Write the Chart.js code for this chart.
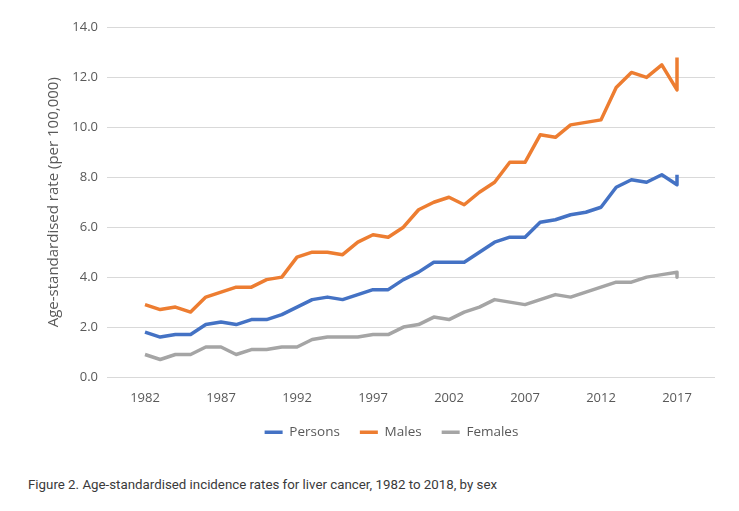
<!DOCTYPE html>
<html lang="en">
<head>
  <meta charset="UTF-8" />
  <title>Liver cancer incidence by sex</title>
  <script src="https://cdn.jsdelivr.net/npm/chart.js"></script>
  <style>
    html, body { margin: 0; padding: 0; background: #fff; }
    #wrap { position: relative; width: 739px; height: 511px; }
    #chart { position: absolute; left: 0; top: 0; }
    #caption {
      position: absolute; left: 28px; top: 476px;
      font-family: Roboto, sans-serif; font-size: 13.3px; line-height: 18px;
      color: #3a3a3a; white-space: nowrap;
    }
  </style>
</head>
<body>

<div id="wrap">
  <canvas id="chart" width="739" height="455"></canvas>
  <div id="caption">Figure 2. Age-standardised incidence rates for liver cancer, 1982 to 2018, by sex</div>
</div>

<script>
// the source plots its final (2018) value on the 2017 position, hence 2017 twice
const years = [1982, 1983, 1984, 1985, 1986, 1987, 1988, 1989, 1990, 1991,
               1992, 1993, 1994, 1995, 1996, 1997, 1998, 1999, 2000, 2001,
               2002, 2003, 2004, 2005, 2006, 2007, 2008, 2009, 2010, 2011,
               2012, 2013, 2014, 2015, 2016, 2017, 2017];

const persons = [1.8, 1.6, 1.7, 1.7, 2.1, 2.2, 2.1, 2.3, 2.3, 2.5,
                 2.8, 3.1, 3.2, 3.1, 3.3, 3.5, 3.5, 3.9, 4.2, 4.6,
                 4.6, 4.6, 5.0, 5.4, 5.6, 5.6, 6.2, 6.3, 6.5, 6.6,
                 6.8, 7.6, 7.9, 7.8, 8.1, 7.7, 8.1];

const males = [2.9, 2.7, 2.8, 2.6, 3.2, 3.4, 3.6, 3.6, 3.9, 4.0,
               4.8, 5.0, 5.0, 4.9, 5.4, 5.7, 5.6, 6.0, 6.7, 7.0,
               7.2, 6.9, 7.4, 7.8, 8.6, 8.6, 9.7, 9.6, 10.1, 10.2,
               10.3, 11.6, 12.2, 12.0, 12.5, 11.5, 12.8];

const females = [0.9, 0.7, 0.9, 0.9, 1.2, 1.2, 0.9, 1.1, 1.1, 1.2,
                 1.2, 1.5, 1.6, 1.6, 1.6, 1.7, 1.7, 2.0, 2.1, 2.4,
                 2.3, 2.6, 2.8, 3.1, 3.0, 2.9, 3.1, 3.3, 3.2, 3.4,
                 3.6, 3.8, 3.8, 4.0, 4.1, 4.2, 4.0];

const xTickLabels = [1982, 1987, 1992, 1997, 2002, 2007, 2012, 2017];
const yTickLabels = [0, 2, 4, 6, 8, 10, 12, 14];

const grey = '#595959';
const family = "'Open Sans', sans-serif";
const tickFont = { family: family, size: 13 };

function series(label, values, color) {
  return {
    label: label,
    data: years.map((yr, i) => ({ x: yr, y: values[i] })),
    borderColor: color,
    backgroundColor: color,
    borderWidth: 3.5,
    borderJoinStyle: 'round',
    pointRadius: 0,
    pointHoverRadius: 0,
    pointStyle: 'line',
    tension: 0
  };
}

function draw() {
  new Chart(document.getElementById('chart'), {
    type: 'line',
    data: {
      datasets: [
        series('Persons', persons, '#4472C4'),
        series('Males', males, '#ED7D31'),
        series('Females', females, '#A5A5A5')
      ]
    },
    options: {
      responsive: false,
      animation: false,
      layout: { padding: { left: 68, top: 27.5, right: 24, bottom: 6 } },
      plugins: {
        tooltip: { enabled: false },
        legend: {
          position: 'bottom',
          labels: {
            usePointStyle: true,
            pointStyle: 'line',
            pointStyleWidth: 18,
            padding: 20,
            color: grey,
            font: { family: family, size: 13.5 }
          }
        }
      },
      scales: {
        x: {
          type: 'linear',
          min: 1979.5,
          max: 2019.5,
          grid: { display: false },
          border: { display: false },
          afterBuildTicks: s => { s.ticks = xTickLabels.map(v => ({ value: v })); },
          afterFit: s => { s.height = 28.5; },
          ticks: {
            color: grey,
            font: tickFont,
            padding: 5,
            maxRotation: 0,
            callback: v => String(v)
          }
        },
        y: {
          min: 0,
          max: 14,
          afterBuildTicks: s => { s.ticks = yTickLabels.map(v => ({ value: v })); },
          afterFit: s => { s.width = 39; },
          grid: { color: '#d9d9d9', lineWidth: 1, drawTicks: false },
          border: { display: false },
          ticks: {
            color: grey,
            font: tickFont,
            padding: 9,
            callback: v => v.toFixed(1)
          },
          title: {
            display: true,
            text: 'Age-standardised rate (per 100,000)',
            color: grey,
            font: { family: family, size: 15 },
            padding: { top: -23, bottom: 0 }
          }
        }
      }
    }
  });
}

document.fonts.load("13px 'Open Sans'").then(draw, draw);
</script>

</body>
</html>
